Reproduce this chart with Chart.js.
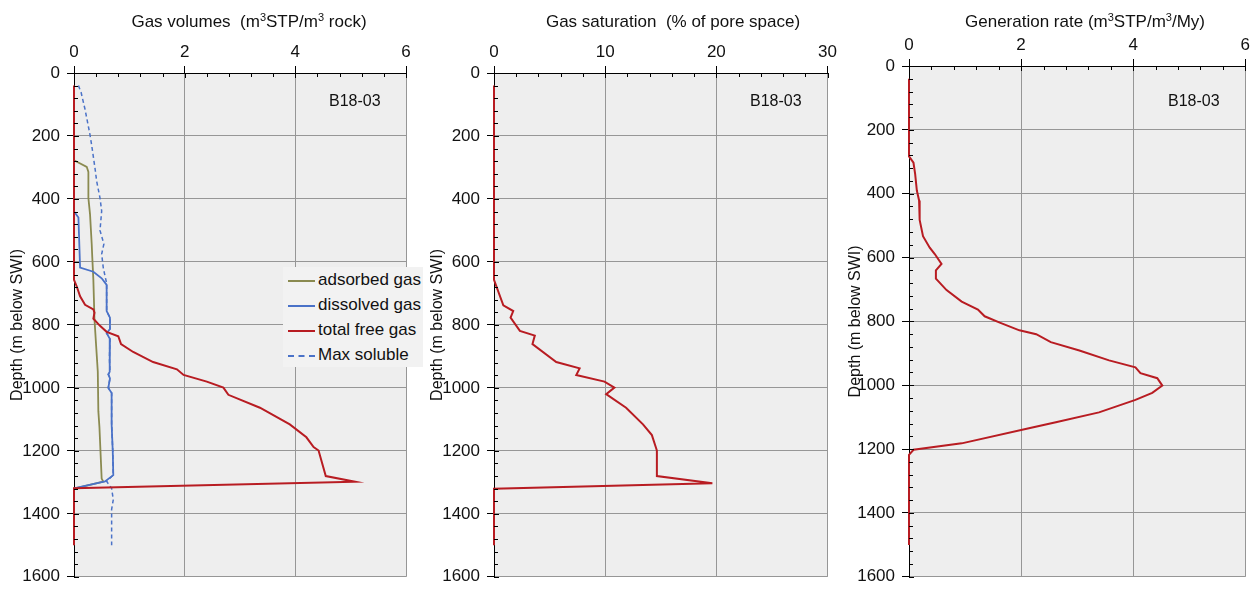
<!DOCTYPE html>
<html>
<head>
<meta charset="utf-8">
<script src="https://cdn.jsdelivr.net/npm/chart.js@4.4.1/dist/chart.umd.min.js"></script>
<style>
  body { margin: 0; background: #fff; font-family: "Liberation Sans", Arial, sans-serif; }
  #wrap { position: relative; width: 1253px; height: 594px; overflow: hidden; }
  canvas { position: absolute; top: 0; }
  .well { position: absolute; font-size: 16px; color: #111; }
  .ttl { position: absolute; top: 11px; width: 400px; text-align: center; font-size: 17px; color: #111; line-height: 22px; white-space: nowrap; }
  .ttl sup { font-size: 11px; vertical-align: 6px; line-height: 0; }
  #legend { position: absolute; left: 283px; top: 267px; width: 140px; height: 100px; background: #f2f2f2; font-size: 17px; color: #111; }
  #legend div { position: absolute; left: 5px; height: 25px; line-height: 25px; white-space: nowrap; }
  #legend span.sw { display: inline-block; width: 27px; vertical-align: middle; margin-right: 3px; }
</style>
</head>
<body>
<div id="wrap">
  <canvas id="c1" width="420" height="594" style="left:0px"></canvas>
  <canvas id="c2" width="420" height="594" style="left:420px"></canvas>
  <canvas id="c3" width="413" height="594" style="left:840px"></canvas>
  <div class="ttl" style="left:49px;">Gas volumes&nbsp; (m<sup>3</sup>STP/m<sup>3</sup> rock)</div>
  <div class="ttl" style="left:473px;">Gas saturation&nbsp; (% of pore space)</div>
  <div class="ttl" style="left:885px;">Generation rate (m<sup>3</sup>STP/m<sup>3</sup>/My)</div>
  <div class="well" style="left:329px; top:92px;">B18-03</div>
  <div class="well" style="left:750px; top:92px;">B18-03</div>
  <div class="well" style="left:1168px; top:92px;">B18-03</div>
  <div id="legend">
    <div style="top:0px"><span class="sw" style="border-top:2px solid #8a8a50"></span>adsorbed gas</div>
    <div style="top:25px"><span class="sw" style="border-top:2px solid #4a72c8"></span>dissolved gas</div>
    <div style="top:50px"><span class="sw" style="border-top:2px solid #b81c22"></span>total free gas</div>
    <div style="top:75px"><span class="sw" style="border-top:2px dashed #4a72c8"></span>Max soluble</div>
  </div>
</div>
<script>
// depth (m below SWI) and values
var freeDepth = [40, 657, 678, 709, 736, 751, 761, 780, 803, 822, 836, 861, 886, 918, 941, 959, 980, 999, 1022, 1063, 1116, 1157, 1188, 1199, 1280, 1298, 1319, 1500];
var freeGas   = [0, 0, 0.05, 0.11, 0.2, 0.35, 0.37, 0.35, 0.47, 0.59, 0.8, 0.85, 1.07, 1.43, 1.86, 1.98, 2.4, 2.7, 2.79, 3.36, 3.9, 4.2, 4.33, 4.42, 4.55, 5.08, 0, 0];

var dissDepth = [440, 459, 618, 631, 652, 673, 756, 777, 813, 826, 845, 907, 949, 957, 970, 1000, 1016, 1116, 1199, 1277, 1297, 1319];
var dissGas   = [0, 0.08, 0.11, 0.35, 0.5, 0.59, 0.59, 0.65, 0.65, 0.59, 0.65, 0.64, 0.65, 0.62, 0.65, 0.62, 0.68, 0.68, 0.7, 0.71, 0.56, 0];

var adsDepth = [277, 298, 314, 397, 449, 543, 584, 657, 782, 866, 949, 1074, 1126, 1288, 1298, 1320];
var adsGas   = [0, 0.23, 0.26, 0.26, 0.29, 0.32, 0.33, 0.35, 0.37, 0.4, 0.43, 0.44, 0.46, 0.5, 0.53, 0];

var solDepth = [40, 63, 116, 197, 230, 303, 344, 397, 438, 500, 543, 575, 620, 668, 756, 777, 813, 826, 845, 907, 949, 957, 970, 1000, 1016, 1116, 1199, 1277, 1297, 1319, 1355, 1386, 1500];
var maxSoluble = [0.08, 0.13, 0.2, 0.29, 0.32, 0.38, 0.41, 0.47, 0.5, 0.47, 0.54, 0.5, 0.53, 0.59, 0.59, 0.65, 0.65, 0.59, 0.65, 0.64, 0.65, 0.62, 0.65, 0.62, 0.68, 0.68, 0.7, 0.71, 0.59, 0.68, 0.71, 0.68, 0.68];

var satDepth = [40, 657, 738, 756, 777, 819, 834, 861, 918, 938, 959, 980, 999, 1020, 1063, 1116, 1150, 1199, 1280, 1303, 1320, 1500];
var saturation = [0, 0, 0.84, 1.73, 1.49, 2.33, 3.67, 3.46, 5.6, 7.7, 7.4, 9.94, 10.83, 10.09, 11.88, 13.4, 14.2, 14.65, 14.65, 19.64, 0, 0];

var genDepth = [40, 283, 303, 339, 390, 421, 482, 533, 569, 589, 620, 640, 666, 702, 738, 763, 784, 804, 828, 840, 865, 891, 922, 944, 962, 978, 1001, 1024, 1046, 1085, 1116, 1136, 1182, 1202, 1218, 1500];
var genRate  = [0, 0, 0.08, 0.11, 0.14, 0.18, 0.19, 0.25, 0.37, 0.46, 0.58, 0.48, 0.48, 0.67, 0.94, 1.23, 1.35, 1.62, 1.97, 2.27, 2.53, 3.04, 3.57, 4.04, 4.13, 4.43, 4.52, 4.34, 4.04, 3.39, 2.62, 2.1, 0.94, 0.08, 0, 0];

var depthTicks = [0, 200, 400, 600, 800, 1000, 1200, 1400, 1600];

var RED = '#b81c22', BLUE = '#4a72c8', OLIVE = '#8a8a50';
var FONT = '"Liberation Sans", Arial, sans-serif';

function pts(depth, vals) {
  return vals.map(function (v, i) { return { x: v, y: depth[i] }; });
}

function line(label, depth, vals, color, dash, width) {
  return {
    label: label,
    data: pts(depth, vals),
    showLine: true,
    borderColor: color,
    borderWidth: width || 2,
    borderDash: dash || [],
    pointRadius: 0,
    fill: false,
    clip: 3,
    tension: 0
  };
}

// light grey plot area and the short inner tick marks
var panelPlugin = {
  id: 'panel',
  beforeDraw: function (chart) {
    var a = chart.chartArea, ctx = chart.ctx;
    ctx.save();
    ctx.fillStyle = '#eeeeee';
    ctx.fillRect(a.left, a.top, a.right - a.left, a.bottom - a.top);
    ctx.restore();
  },
  afterDraw: function (chart) {
    var a = chart.chartArea, ctx = chart.ctx;
    var xs = chart.scales.x, ys = chart.scales.y;
    var major = chart.options.majorX;
    ctx.save();
    ctx.strokeStyle = '#000';
    ctx.lineWidth = 1;
    ctx.beginPath();
    ys.ticks.forEach(function (t) {
      var p = Math.round(ys.getPixelForValue(t.value)) + 0.5;
      var len = t.value % 200 === 0 ? 5 : 4;
      ctx.moveTo(a.left, p);
      ctx.lineTo(a.left + len, p);
    });
    xs.ticks.forEach(function (t) {
      var p = Math.round(xs.getPixelForValue(t.value)) + 0.5;
      var isMajor = Math.abs(t.value / major - Math.round(t.value / major)) < 1e-6;
      var len = isMajor ? 5 : 4;
      ctx.moveTo(p, a.top);
      ctx.lineTo(p, a.top + len);
    });
    ctx.stroke();
    ctx.restore();
  }
};

function makePanel(id, opt) {
  var isMajorX = function (v) { return Math.abs(v / opt.major - Math.round(v / opt.major)) < 1e-6; };
  return new Chart(document.getElementById(id), {
    type: 'scatter',
    data: { datasets: opt.datasets },
    plugins: [panelPlugin],
    options: {
      responsive: false,
      animation: false,
      majorX: opt.major,
      layout: { padding: opt.padding },
      plugins: { legend: { display: false }, tooltip: { enabled: false } },
      scales: {
        x: {
          type: 'linear',
          position: 'top',
          min: 0,
          max: opt.xmax,
          afterFit: function (s) { s.height = opt.xh; },
          ticks: {
            stepSize: opt.minor,
            autoSkip: false,
            maxRotation: 0,
            padding: 3,
            color: '#111',
            font: { family: FONT, size: 17 },
            callback: function (v) { return isMajorX(v) ? String(Math.round(v)) : ''; }
          },
          grid: {
            tickLength: 7,
            lineWidth: 1,
            color: function (c) { return c.tick && isMajorX(c.tick.value) ? '#969696' : 'rgba(0,0,0,0)'; },
            tickColor: function (c) { return c.tick && isMajorX(c.tick.value) ? '#000' : 'rgba(0,0,0,0)'; }
          },
          border: { color: '#000', width: 1 },
          title: { display: false }
        },
        y: {
          type: 'linear',
          reverse: true,
          min: 0,
          max: 1600,
          afterFit: function (s) { s.width = opt.yw; },
          ticks: {
            stepSize: 40,
            autoSkip: false,
            padding: 7,
            color: '#111',
            font: { family: FONT, size: 17 },
            callback: function (v) { return depthTicks.indexOf(v) >= 0 ? String(v) : ''; }
          },
          grid: {
            tickLength: 7,
            lineWidth: 1,
            color: function (c) { return c.tick && c.tick.value % 200 === 0 ? '#969696' : 'rgba(0,0,0,0)'; },
            tickColor: function (c) { return c.tick && c.tick.value % 200 === 0 ? '#000' : 'rgba(0,0,0,0)'; }
          },
          border: { color: '#000', width: 1 },
          title: {
            display: true,
            text: 'Depth (m below SWI)',
            color: '#111',
            font: { family: FONT, size: 16 },
            padding: { top: opt.yTitlePad, bottom: 0 }
          }
        }
      }
    }
  });
}

makePanel('c1', {
  xmax: 6, minor: 0.4, major: 2,
  xh: 73, yw: 74, yTitlePad: 8,
  padding: { left: 0, right: 14, top: 0, bottom: 9 },
  datasets: [
    line('total free gas', freeDepth, freeGas, RED),
    line('dissolved gas', dissDepth, dissGas, BLUE, null, 1.8),
    line('adsorbed gas', adsDepth, adsGas, OLIVE, null, 1.8),
    line('Max soluble', solDepth, maxSoluble, BLUE, [4, 3], 1.5)
  ]
});

makePanel('c2', {
  xmax: 30, minor: 2, major: 10,
  xh: 73, yw: 74, yTitlePad: 8,
  padding: { left: 0, right: 11, top: 0, bottom: 9 },
  datasets: [ line('Gas saturation', satDepth, saturation, RED) ]
});

makePanel('c3', {
  xmax: 6, minor: 0.4, major: 2,
  xh: 66, yw: 69, yTitlePad: 6,
  padding: { left: 0, right: 6, top: 0, bottom: 6 },
  datasets: [ line('Generation rate', genDepth, genRate, RED) ]
});
</script>
</body>
</html>
